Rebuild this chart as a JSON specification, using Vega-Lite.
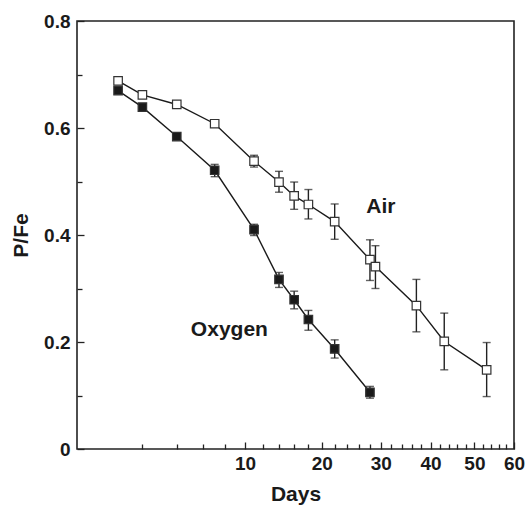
{
  "$schema": "https://vega.github.io/schema/vega-lite/v6.json",
  "autosize": {"type": "none"},
  "width": 437,
  "height": 428,
  "padding": {"left": 77, "top": 21, "right": 14, "bottom": 57},
  "background": "white",
  "config": {
    "view": {"stroke": "#222", "strokeWidth": 1.6},
    "axis": {
      "domain": false,
      "grid": false,
      "tickColor": "#222",
      "tickWidth": 1.3,
      "labelFont": "Liberation Sans",
      "labelFontWeight": "bold",
      "labelFontSize": 19,
      "labelColor": "#1a1a1a",
      "titleFont": "Liberation Sans",
      "titleFontWeight": "bold",
      "titleFontSize": 21,
      "titleColor": "#1a1a1a"
    },
    "text": {"font": "Liberation Sans"}
  },
  "resolve": {"axis": {"x": "independent", "y": "independent"}},
  "datasets": {
    "pts": [
      {"series": "Air", "days": 1, "pfe": 0.688, "lo": null, "hi": null},
      {"series": "Air", "days": 2, "pfe": 0.662, "lo": null, "hi": null},
      {"series": "Air", "days": 4, "pfe": 0.644, "lo": null, "hi": null},
      {"series": "Air", "days": 7, "pfe": 0.608, "lo": null, "hi": null},
      {"series": "Air", "days": 11, "pfe": 0.538, "lo": 0.527, "hi": 0.549},
      {"series": "Air", "days": 14, "pfe": 0.499, "lo": 0.480, "hi": 0.519},
      {"series": "Air", "days": 16, "pfe": 0.473, "lo": 0.448, "hi": 0.499},
      {"series": "Air", "days": 18, "pfe": 0.457, "lo": 0.430, "hi": 0.485},
      {"series": "Air", "days": 22, "pfe": 0.425, "lo": 0.392, "hi": 0.458},
      {"series": "Air", "days": 28, "pfe": 0.354, "lo": 0.315, "hi": 0.391},
      {"series": "Air", "days": 29, "pfe": 0.341, "lo": 0.300, "hi": 0.380},
      {"series": "Air", "days": 37, "pfe": 0.268, "lo": 0.219, "hi": 0.317},
      {"series": "Air", "days": 43, "pfe": 0.201, "lo": 0.148, "hi": 0.254},
      {"series": "Air", "days": 53, "pfe": 0.148, "lo": 0.098, "hi": 0.199},
      {"series": "Oxygen", "days": 1, "pfe": 0.670, "lo": null, "hi": null},
      {"series": "Oxygen", "days": 2, "pfe": 0.639, "lo": null, "hi": null},
      {"series": "Oxygen", "days": 4, "pfe": 0.584, "lo": null, "hi": null},
      {"series": "Oxygen", "days": 7, "pfe": 0.521, "lo": 0.509, "hi": 0.532},
      {"series": "Oxygen", "days": 11, "pfe": 0.410, "lo": 0.399, "hi": 0.420},
      {"series": "Oxygen", "days": 14, "pfe": 0.317, "lo": 0.302, "hi": 0.330},
      {"series": "Oxygen", "days": 16, "pfe": 0.279, "lo": 0.262, "hi": 0.295},
      {"series": "Oxygen", "days": 18, "pfe": 0.242, "lo": 0.222, "hi": 0.259},
      {"series": "Oxygen", "days": 22, "pfe": 0.187, "lo": 0.170, "hi": 0.204},
      {"series": "Oxygen", "days": 28, "pfe": 0.106, "lo": 0.095, "hi": 0.117}
    ],
    "labels": [
      {"days": 30.0, "pfe": 0.453, "text": "Air"},
      {"days": 8.39, "pfe": 0.223, "text": "Oxygen"}
    ]
  },
  "data": {"name": "pts"},
  "encoding": {
    "x": {
      "field": "days", "type": "quantitative",
      "scale": {"type": "sqrt", "domain": [0.09, 60], "nice": false, "zero": false},
      "axis": null
    },
    "y": {
      "field": "pfe", "type": "quantitative",
      "scale": {"domain": [0, 0.8], "nice": false},
      "axis": null
    }
  },
  "layer": [
    {
      "mark": {"type": "line", "color": "#1a1a1a", "strokeWidth": 1.4},
      "encoding": {
        "detail": {"field": "series"},
        "x": {
          "field": "days", "type": "quantitative",
          "scale": {"type": "sqrt", "domain": [0.09, 60], "nice": false, "zero": false},
          "axis": {
            "orient": "bottom",
            "title": "Days",
            "titlePadding": 10,
            "values": [10, 20, 30, 40, 50, 60],
            "offset": -7,
            "tickSize": 7,
            "labelPadding": 5,
            "labelFlush": false
          }
        },
        "y": {
          "field": "pfe", "type": "quantitative",
          "scale": {"domain": [0, 0.8], "nice": false},
          "axis": {
            "orient": "left",
            "title": "P/Fe",
            "titlePadding": 12,
            "values": [0, 0.2, 0.4, 0.6, 0.8],
            "labelExpr": "datum.value === 0 ? '0' : format(datum.value, '.1f')",
            "offset": -7,
            "tickSize": 7,
            "labelPadding": 7,
            "labelFlush": false
          }
        }
      }
    },
    {
      "transform": [{"filter": "datum.lo != null"}],
      "mark": {"type": "rule", "color": "#222", "strokeWidth": 1.4},
      "encoding": {
        "x": {
          "field": "days", "type": "quantitative",
          "scale": {"type": "sqrt", "domain": [0.09, 60], "nice": false, "zero": false},
          "axis": {
            "orient": "bottom",
            "title": null,
            "values": [2, 4, 6, 8, 12, 14, 16, 18, 22, 24, 26, 28, 32, 34, 36, 38, 42, 44, 46, 48, 52, 54, 56, 58],
            "offset": -5,
            "tickSize": 5,
            "labels": false
          }
        },
        "y": {
          "field": "lo", "type": "quantitative",
          "scale": {"domain": [0, 0.8], "nice": false},
          "axis": {
            "orient": "left",
            "title": null,
            "values": [0.1, 0.3, 0.5, 0.7],
            "offset": -5,
            "tickSize": 5,
            "labels": false
          }
        },
        "y2": {"field": "hi"}
      }
    },
    {
      "transform": [{"filter": "datum.lo != null"}],
      "mark": {"type": "tick", "orient": "horizontal", "color": "#222", "size": 8, "thickness": 1.4},
      "encoding": {"y": {"field": "lo", "type": "quantitative", "axis": null}}
    },
    {
      "transform": [{"filter": "datum.hi != null"}],
      "mark": {"type": "tick", "orient": "horizontal", "color": "#222", "size": 8, "thickness": 1.4},
      "encoding": {"y": {"field": "hi", "type": "quantitative", "axis": null}}
    },
    {
      "mark": {"type": "point", "shape": "square", "size": 72, "opacity": 1, "stroke": "#333", "strokeWidth": 1.2, "filled": false},
      "encoding": {
        "fill": {"field": "series", "type": "nominal", "scale": {"domain": ["Air", "Oxygen"], "range": ["white", "#1a1a1a"]}, "legend": null}
      }
    },
    {
      "data": {"name": "labels"},
      "mark": {"type": "text", "fontSize": 21, "fontWeight": "bold", "color": "#1a1a1a", "align": "center", "baseline": "middle"},
      "encoding": {"text": {"field": "text"}}
    }
  ]
}
